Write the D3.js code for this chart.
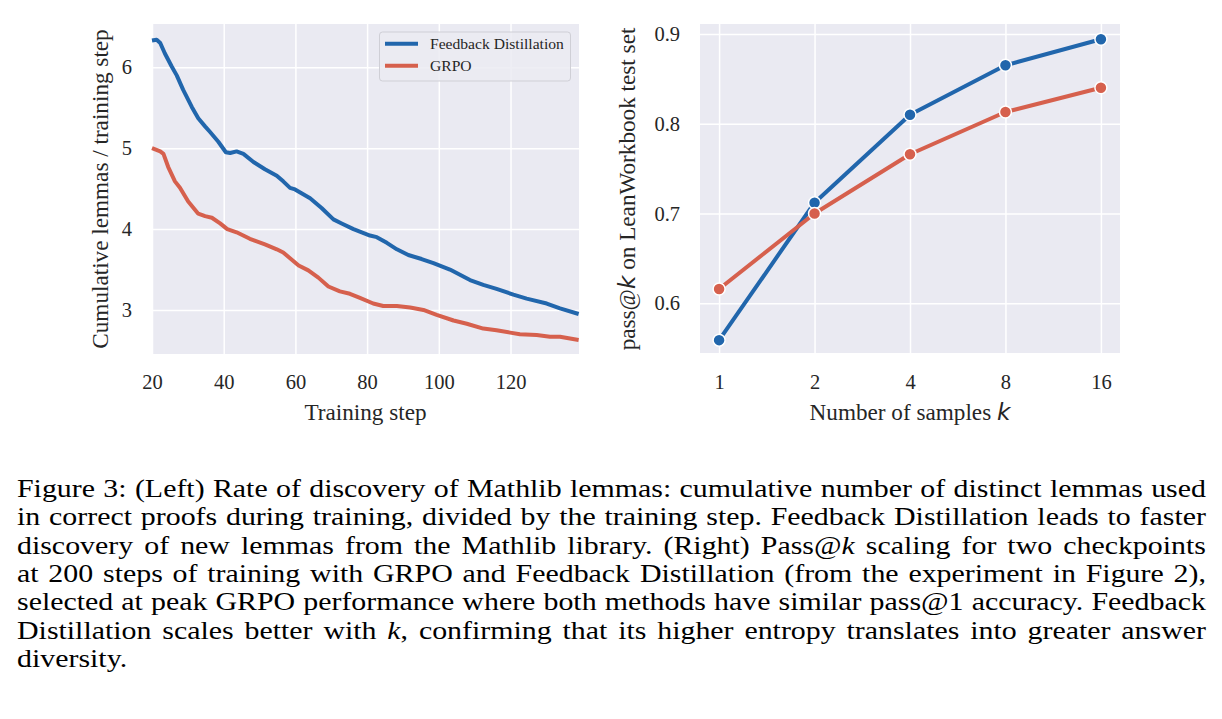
<!DOCTYPE html>
<html lang="en">
<head>
<meta charset="UTF-8">
<title>Figure 3</title>
<style>
  body{margin:0;background:#fff;}
  svg{display:block;}
  text{font-family:"Liberation Serif","Times New Roman",serif;fill:#262626;}
</style>
</head>
<body>
<div id="chart"></div>
<script src="https://cdn.jsdelivr.net/npm/d3@7"></script>
<script>
// left panel: cumulative lemmas / training step
var fdSteps=[20,21.3,22.3,23.6,25.5,26.9,28.7,31.1,32.9,34.8,36.2,38.5,40.6,41.8,43.6,45.5,48.3,51.5,54.8,56.6,58.5,59.9,64.1,67.3,70.6,72.9,76.2,78.5,80.8,82.7,85.5,88.3,91.5,95.2,98.5,103.1,108.7,112.4,116.1,120.8,124.5,130.1,133.8,139];
var fdRate=[6.33,6.34,6.30,6.17,6.01,5.90,5.72,5.51,5.37,5.27,5.20,5.08,4.95,4.94,4.96,4.93,4.83,4.74,4.66,4.59,4.51,4.49,4.38,4.26,4.12,4.07,4.00,3.96,3.92,3.90,3.83,3.75,3.68,3.63,3.58,3.50,3.37,3.31,3.26,3.19,3.14,3.08,3.02,2.95];
var grpoSteps=[20,22.3,23.2,24.5,26.4,27.8,30.1,32.9,34.8,36.7,39.0,41.0,43.6,47.3,51.5,54.8,56.6,58.5,60.9,63.6,66.4,69.2,72.4,75.2,78.0,81.7,84.5,88.3,92.0,95.7,99.4,104.1,107.8,112.4,116.1,119.9,122.6,127.3,131.0,133.8,139];
var grpoRate=[5.00,4.96,4.93,4.77,4.59,4.51,4.34,4.19,4.16,4.14,4.07,4.00,3.96,3.88,3.81,3.75,3.71,3.64,3.55,3.49,3.40,3.29,3.23,3.20,3.15,3.08,3.05,3.05,3.03,3.00,2.94,2.87,2.83,2.77,2.75,2.72,2.70,2.69,2.67,2.67,2.63];
var leftXTicks=[20,40,60,80,100,120];
var leftYTicks=[3,4,5,6];

// right panel: pass@k
var kValues=[1,2,4,8,16];
var fdPass=[0.559,0.712,0.810,0.865,0.894];
var grpoPass=[0.616,0.700,0.766,0.813,0.840];
var rightYTicks=[0.6,0.7,0.8,0.9];

var seriesNames=['Feedback Distillation','GRPO'];
var colors=['#2166ac','#d6604d'];

var captionLines=[
  'Figure 3: (Left) Rate of discovery of Mathlib lemmas: cumulative number of distinct lemmas used',
  'in correct proofs during training, divided by the training step. Feedback Distillation leads to faster',
  'discovery of new lemmas from the Mathlib library. (Right) Pass@{k} scaling for two checkpoints',
  'at 200 steps of training with GRPO and Feedback Distillation (from the experiment in Figure 2),',
  'selected at peak GRPO performance where both methods have similar pass@1 accuracy. Feedback',
  'Distillation scales better with {k}, confirming that its higher entropy translates into greater answer',
  'diversity.'
];

var W=1222, H=719;
var tickSize=20.5, labelSize=23.2;
var svg=d3.select('#chart').append('svg').attr('width',W).attr('height',H);

// ---- left panel ----
var xL=d3.scaleLinear().domain([20,139.1]).range([152,579]);
var yL=d3.scaleLinear().domain([2.456,6.535]).range([354,24]);

function panelBg(x,y){
  svg.append('rect')
    .attr('x',x.range()[0]).attr('y',y.range()[1])
    .attr('width',x.range()[1]-x.range()[0])
    .attr('height',y.range()[0]-y.range()[1])
    .attr('fill','#eaeaf2');
}
function styleAxis(g){
  g.select('.domain').remove();
  g.selectAll('line').attr('stroke','#fff').attr('stroke-width',1.5);
  g.selectAll('text').style('font-size',tickSize+'px').attr('fill','#262626')
    .style('font-family','"Liberation Serif",serif');
}

panelBg(xL,yL);
svg.append('g').attr('transform','translate(0,354)')
  .call(d3.axisBottom(xL).tickValues(leftXTicks).tickSize(-330).tickPadding(20.5))
  .call(styleAxis);
svg.append('g').attr('transform','translate(152,0)')
  .call(d3.axisLeft(yL).tickValues(leftYTicks).tickFormat(d3.format('d')).tickSize(-427).tickPadding(20))
  .call(styleAxis);

var lineL=d3.line().x(function(d){return xL(d[0]);}).y(function(d){return yL(d[1]);});
var leftSeries=[d3.zip(fdSteps,fdRate),d3.zip(grpoSteps,grpoRate)];
leftSeries.forEach(function(s,i){
  svg.append('path').datum(s).attr('d',lineL)
    .attr('fill','none').attr('stroke',colors[i]).attr('stroke-width',4)
    .attr('stroke-linejoin','round');
});

// legend
var lg=svg.append('g');
lg.append('rect').attr('x',379.5).attr('y',32).attr('width',191).attr('height',49).attr('rx',3)
  .attr('fill','#ebebf2').attr('fill-opacity',0.85).attr('stroke','#cfcfd6').attr('stroke-width',1);
seriesNames.forEach(function(n,i){
  var y=43.7+i*22;
  lg.append('line').attr('x1',385).attr('x2',418).attr('y1',y).attr('y2',y)
    .attr('stroke',colors[i]).attr('stroke-width',4);
  lg.append('text').attr('x',430).attr('y',y+5.5).style('font-size','15.6px').text(n);
});

svg.append('text').attr('x',365.5).attr('y',420).attr('text-anchor','middle')
  .style('font-size',labelSize+'px').text('Training step');
svg.append('text').attr('transform','translate(108,189) rotate(-90)').attr('text-anchor','middle')
  .style('font-size',labelSize+'px').text('Cumulative lemmas / training step');

// ---- right panel ----
var xR=d3.scaleLog().base(2).domain([Math.pow(2,-0.2),Math.pow(2,4.2)]).range([700,1120]);
var yR=d3.scaleLinear().domain([0.5447,0.911]).range([353,24]);

panelBg(xR,yR);
svg.append('g').attr('transform','translate(0,353)')
  .call(d3.axisBottom(xR).tickValues(kValues).tickFormat(d3.format('d')).tickSize(-329).tickPadding(21.5))
  .call(styleAxis);
svg.append('g').attr('transform','translate(700,0)')
  .call(d3.axisLeft(yR).tickValues(rightYTicks).tickFormat(d3.format('.1f')).tickSize(-420).tickPadding(20))
  .call(styleAxis);

var lineR=d3.line().x(function(d){return xR(d[0]);}).y(function(d){return yR(d[1]);});
[d3.zip(kValues,fdPass),d3.zip(kValues,grpoPass)].forEach(function(s,i){
  svg.append('path').datum(s).attr('d',lineR)
    .attr('fill','none').attr('stroke',colors[i]).attr('stroke-width',4)
    .attr('stroke-linejoin','round');
  svg.append('g').selectAll('circle').data(s).enter().append('circle')
    .attr('cx',function(d){return xR(d[0]);})
    .attr('cy',function(d){return yR(d[1]);})
    .attr('r',6).attr('fill',colors[i]).attr('stroke','#fff').attr('stroke-width',1.5);
});

var xlab=svg.append('text').attr('x',910).attr('y',420).attr('text-anchor','middle')
  .style('font-size',labelSize+'px');
xlab.append('tspan').text('Number of samples ');
xlab.append('tspan').style('font-family','"DejaVu Sans",sans-serif').style('font-style','italic').text('k');

var ylab=svg.append('text').attr('transform','translate(635,189) rotate(-90)').attr('text-anchor','middle')
  .style('font-size',labelSize+'px');
ylab.append('tspan').text('pass@');
ylab.append('tspan').style('font-family','"DejaVu Sans",sans-serif').style('font-style','italic').text('k');
ylab.append('tspan').text(' on LeanWorkbook test set');

// ---- caption, justified word by word (glyphs a little wide, like the scan) ----
var capX0=17, capX1=1206, capY0=497, capLead=28.3, capSize=26, capStretch=1.15;
captionLines.forEach(function(line,i){
  var words=line.split(' ');
  var y=capY0+i*capLead;
  var nodes=words.map(function(w){
    var t=svg.append('text').style('fill','#000').style('font-size',capSize+'px');
    w.split(/(\{k\})/).forEach(function(p){
      if(p==='{k}') t.append('tspan').style('font-style','italic').text('k');
      else if(p) t.append('tspan').text(p);
    });
    return t;
  });
  var widths=nodes.map(function(n){return n.node().getComputedTextLength()*capStretch;});
  var last=(i===captionLines.length-1);
  var gap=last?capSize*0.25:(capX1-capX0-d3.sum(widths))/(words.length-1);
  var x=capX0;
  nodes.forEach(function(n,j){
    n.attr('transform','translate('+x+','+y+') scale('+capStretch+',1)');
    x+=widths[j]+gap;
  });
});
</script>
</body>
</html>
